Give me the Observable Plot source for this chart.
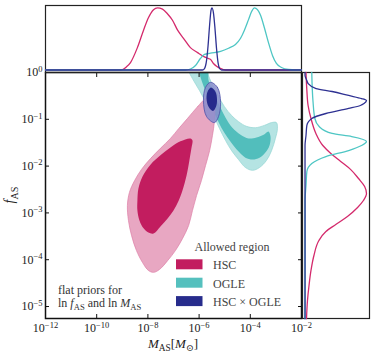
<!DOCTYPE html>
<html><head><meta charset="utf-8">
<script src="https://cdn.jsdelivr.net/npm/d3@7"></script>
<script src="https://cdn.jsdelivr.net/npm/@observablehq/plot@0.6"></script>
<style>
body{margin:0;background:#fff}
#chart{position:relative;width:374px;height:355px}
#chart svg{position:absolute;left:0;top:0}
</style></head><body><div id="chart"></div>
<script>
// ---- tick exponents ----
const xTickExps = [-12, -10, -8, -6, -4, -2];
const yTickExps = [0, -1, -2, -3, -4, -5];

// ---- 2D allowed regions (log10 M_AS, log10 f_AS) ----
const hscOuterLogM = [-5.75,-6.06,-6.45,-6.80,-7.12,-7.51,-7.90,-8.25,-8.52,-8.72,-8.80,-8.76,-8.64,-8.45,-8.21,-7.98,-7.78,-7.55,-7.23,-6.92,-6.65,-6.41,-6.26,-6.10,-5.91,-5.75,-5.59,-5.48,-5.40,-5.40,-5.55];
const hscOuterLogF = [-0.56,-0.73,-0.98,-1.20,-1.41,-1.62,-1.84,-2.07,-2.31,-2.56,-2.84,-3.16,-3.48,-3.80,-4.06,-4.23,-4.27,-4.21,-4.02,-3.80,-3.55,-3.27,-2.95,-2.63,-2.31,-1.99,-1.67,-1.35,-1.03,-0.71,-0.53];
const hscInnerLogM = [-6.34,-6.73,-7.12,-7.51,-7.90,-8.21,-8.37,-8.41,-8.41,-8.33,-8.17,-7.98,-7.78,-7.51,-7.23,-7.00,-6.80,-6.65,-6.49,-6.38,-6.30,-6.26];
const hscInnerLogF = [-1.41,-1.47,-1.60,-1.77,-1.97,-2.22,-2.48,-2.74,-2.95,-3.16,-3.33,-3.42,-3.44,-3.29,-3.12,-2.95,-2.74,-2.52,-2.20,-1.88,-1.62,-1.45];
const ogleOuterLogM = [-6.41,-5.67,-5.67,-5.48,-5.24,-5.01,-4.73,-4.46,-4.15,-3.80,-3.45,-3.17,-2.98,-2.94,-3.02,-3.17,-3.37,-3.64,-3.91,-4.19,-4.46,-4.73,-4.97,-5.20,-5.44,-5.71,-5.98,-6.26,-6.41];
const ogleOuterLogF = [0.13,0.13,0,-0.26,-0.51,-0.73,-0.92,-1.05,-1.15,-1.18,-1.13,-1.07,-1.07,-1.20,-1.41,-1.67,-1.88,-2.03,-2.09,-2.03,-1.86,-1.67,-1.45,-1.20,-0.92,-0.66,-0.39,-0.13,0.04];
const ogleInnerLogM = [-5.98,-5.67,-5.63,-5.44,-5.20,-4.97,-4.70,-4.38,-4.07,-3.76,-3.48,-3.29,-3.21,-3.25,-3.41,-3.64,-3.91,-4.19,-4.42,-4.66,-4.89,-5.13,-5.36,-5.59,-5.79,-5.95,-6.02];
const ogleInnerLogF = [0.13,0.13,-0.17,-0.43,-0.71,-0.96,-1.18,-1.33,-1.41,-1.39,-1.33,-1.26,-1.37,-1.56,-1.71,-1.82,-1.86,-1.82,-1.71,-1.56,-1.39,-1.18,-0.92,-0.64,-0.34,-0.09,0.09];
const jointOuterLogM = [-5.555,-5.28,-5.16,-5.24,-5.40,-5.71,-5.83,-5.75];
const jointOuterLogF = [-0.21,-0.32,-0.64,-0.94,-1.07,-0.94,-0.60,-0.32];
const jointInnerLogM = [-5.535,-5.36,-5.30,-5.34,-5.46,-5.63,-5.71,-5.67];
const jointInnerLogF = [-0.32,-0.41,-0.58,-0.73,-0.82,-0.73,-0.56,-0.41];

// ---- top marginals (log10 M_AS, relative density) ----
const hscTopLogM = [-12,-9.15,-8.99,-8.84,-8.68,-8.41,-8.17,-7.98,-7.78,-7.625,-7.43,-7.23,-7.04,-6.84,-6.61,-6.34,-6.06,-5.83,-5.67,-5.55,-5.43,-5.28,-5.05,-4.89,-2];
const hscTopDens = [0,0,0.008,0.05,0.12,0.36,0.64,0.84,0.97,1.0,0.98,0.90,0.80,0.64,0.51,0.36,0.28,0.22,0.19,0.17,0.10,0.05,0.008,0,0];
const ogleTopLogM = [-12,-6.53,-6.34,-6.14,-5.95,-5.79,-5.555,-5.16,-4.85,-4.58,-4.38,-4.23,-4.07,-3.95,-3.84,-3.72,-3.60,-3.45,-3.29,-3.13,-2.98,-2.78,-2.51,-2.23,-2];
const ogleTopDens = [0,0,0.016,0.072,0.185,0.25,0.27,0.30,0.35,0.41,0.51,0.64,0.81,0.94,1.0,0.97,0.88,0.68,0.44,0.23,0.105,0.04,0.008,0,0];
const jointTopLogM = [-12,-5.87,-5.79,-5.71,-5.65,-5.59,-5.535,-5.50,-5.44,-5.38,-5.32,-5.26,-5.20,-5.125,-2];
const jointTopDens = [0,0,0.024,0.15,0.39,0.72,0.96,1.0,0.92,0.67,0.35,0.12,0.024,0,0];

// ---- right marginals (log10 f_AS, relative density) ----
const hscRightLogF = [0,-0.385,-0.705,-0.983,-1.303,-1.56,-1.73,-1.90,-2.07,-2.265,-2.436,-2.585,-2.735,-2.885,-3.077,-3.248,-3.397,-3.59,-3.91,-4.23,-4.55,-4.87,-5.26];
const hscRightDens = [0.016,0.03,0.05,0.097,0.177,0.29,0.42,0.58,0.74,0.87,0.97,1.0,0.95,0.855,0.69,0.50,0.34,0.226,0.145,0.097,0.065,0.04,0.024];
const ogleRightLogF = [0,-0.62,-0.983,-1.154,-1.303,-1.368,-1.474,-1.56,-1.667,-1.795,-1.944,-2.115,-2.415,-2.735,-5.26];
const ogleRightDens = [0.11,0.13,0.16,0.23,0.44,0.76,1.0,0.92,0.71,0.34,0.11,0.03,0.016,0,0];
const jointRightLogF = [0,-0.064,-0.171,-0.235,-0.342,-0.406,-0.491,-0.556,-0.598,-0.662,-0.705,-0.769,-0.876,-0.983,-1.132,-1.346,-1.56,-5.26];
const jointRightDens = [0,0,0.03,0.05,0.18,0.44,0.71,0.92,1.0,0.96,0.90,0.71,0.34,0.11,0.03,0.016,0,0];

// ---- legend ----
const legendTitle = "Allowed region";
const legendLabels = ["HSC", "OGLE", "HSC × OGLE"];
const legendColors = ["#c21d5f", "#55c0be", "#272c8c"];

// ---- colours ----
const C = {
  hscLight:"#e8a7c2", hscDark:"#c21d5f", hscLine:"#d42a6c",
  ogleLight:"#b5e4e3", ogleDark:"#52bebc", ogleLine:"#4ec6c4",
  jointLight:"#8a8dcc", jointDark:"#262a8c", jointLine:"#2e3192"
};

const FONT = "'Liberation Serif','DejaVu Serif',serif";
const NS = "http://www.w3.org/2000/svg";
const W = 374, H = 355;
const L = 45, R = 301, T = 72, B = 318;
const xDom = [1e-12, 1e-2];
const yDom = [Math.pow(10, -5.256), 1];

const poly = (ms, fs) => ms.map((m, i) => ({m: Math.pow(10, m), f: Math.pow(10, fs[i])}));
const topSeries = (ms, ds) => ms.map((m, i) => ({m: Math.pow(10, m), d: ds[i]}));
const rightSeries = (fs, ds) => fs.map((f, i) => ({f: Math.pow(10, f), d: ds[i]}));
const fmt = d => "10^" + String(Math.round(Math.log10(d))).replace("-", "\u2212");
const xTicks = xTickExps.map(e => Math.pow(10, e));
const yTicks = yTickExps.map(e => Math.pow(10, e));

const region = (data, fill, stroke, sw, extra = {}) =>
  Plot.line(data, {x: "m", y: "f", curve: "catmull-rom-closed", fill, stroke, strokeWidth: sw, clip: true, ...extra});

const main = Plot.plot({
  width: W, height: H,
  marginLeft: L, marginRight: W - R, marginTop: T, marginBottom: H - B,
  style: {background: "transparent", fontFamily: FONT, fontSize: "12px", color: "#222"},
  x: {type: "log", domain: xDom, label: null},
  y: {type: "log", domain: yDom, label: null},
  marks: [
    region(poly(ogleOuterLogM, ogleOuterLogF), C.ogleLight, "#93d5d3", 0.7),
    region(poly(ogleInnerLogM, ogleInnerLogF), C.ogleDark, "none", 0),
    region(poly(hscOuterLogM, hscOuterLogF), C.hscLight, "#dc7ea6", 0.7),
    region(poly(hscInnerLogM, hscInnerLogF), C.hscDark, "none", 0),
    region(poly(jointOuterLogM, jointOuterLogF), C.jointLight, "#4d51a8", 0.8, {fillOpacity: 0.85}),
    region(poly(jointInnerLogM, jointInnerLogF), C.jointDark, "none", 0),
    Plot.frame({stroke: "#111", strokeWidth: 1.5}),
    Plot.axisX(xTicks, {anchor: "bottom", tickSize: 0, tickPadding: 5, tickFormat: fmt, label: null}),
    Plot.axisX(xTicks, {anchor: "bottom", tickSize: 4, dy: -4, fill: "none", label: null, stroke: "#111"}),
    Plot.axisX(xTicks, {anchor: "top", tickSize: 4, dy: 4, fill: "none", label: null, stroke: "#111"}),
    Plot.axisY(yTicks, {anchor: "left", tickSize: 0, tickPadding: 3, tickFormat: fmt, label: null}),
    Plot.axisY(yTicks, {anchor: "left", tickSize: 4, dx: 4, fill: "none", label: null, stroke: "#111"}),
    Plot.axisY(yTicks, {anchor: "right", tickSize: 4, dx: -4, fill: "none", label: null, stroke: "#111"})
  ]
});

const topPanel = Plot.plot({
  width: W, height: H,
  marginLeft: L, marginRight: W - R, marginTop: 5, marginBottom: H - T,
  style: {background: "transparent"},
  x: {type: "log", domain: xDom, axis: null},
  y: {domain: [-0.04, 1.037], axis: null},
  marks: [
    Plot.frame({stroke: "#222", strokeWidth: 1.2}),
    Plot.line(topSeries(hscTopLogM, hscTopDens), {x: "m", y: "d", stroke: C.hscLine, strokeWidth: 1.3, curve: "monotone-x"}),
    Plot.line(topSeries(ogleTopLogM, ogleTopDens), {x: "m", y: "d", stroke: C.ogleLine, strokeWidth: 1.3, curve: "monotone-x"}),
    Plot.line(topSeries(jointTopLogM, jointTopDens), {x: "m", y: "d", stroke: C.jointLine, strokeWidth: 1.3, curve: "monotone-x"})
  ]
});

const rightPanel = Plot.plot({
  width: W, height: H,
  marginLeft: 302, marginRight: 5, marginTop: T, marginBottom: H - B,
  style: {background: "transparent"},
  x: {domain: [-0.041, 1.049], axis: null},
  y: {type: "log", domain: yDom, axis: null},
  marks: [
    Plot.frame({stroke: "#222", strokeWidth: 1.2}),
    Plot.line(rightSeries(hscRightLogF, hscRightDens), {x: "d", y: "f", stroke: C.hscLine, strokeWidth: 1.3, curve: "monotone-y"}),
    Plot.line(rightSeries(ogleRightLogF, ogleRightDens), {x: "d", y: "f", stroke: C.ogleLine, strokeWidth: 1.3, curve: "monotone-y"}),
    Plot.line(rightSeries(jointRightLogF, jointRightDens), {x: "d", y: "f", stroke: C.jointLine, strokeWidth: 1.3, curve: "monotone-y"})
  ]
});

// superscript tick labels
main.querySelectorAll("text").forEach(t => {
  const m = t.textContent.match(/^10\^(.+)$/);
  if (!m) return;
  t.textContent = "10";
  const ts = document.createElementNS(NS, "tspan");
  ts.setAttribute("dy", "-4.5");
  ts.setAttribute("font-size", "8.5");
  ts.textContent = m[1];
  t.appendChild(ts);
});

function rich(svg, x, y, parts, {size = 12, anchor = "start", rotate = 0, fill = "#222"} = {}) {
  const t = document.createElementNS(NS, "text");
  t.setAttribute("x", x); t.setAttribute("y", y);
  t.setAttribute("font-family", FONT); t.setAttribute("font-size", size);
  t.setAttribute("fill", fill); t.setAttribute("text-anchor", anchor);
  t.setAttribute("style", "white-space:pre");
  if (rotate) t.setAttribute("transform", `rotate(${rotate},${x},${y})`);
  let cur = 0;
  for (const [s, k] of parts) {
    const ts = document.createElementNS(NS, "tspan");
    let shift = 0;
    if (k === "i") ts.setAttribute("font-style", "italic");
    if (k === "sub") { shift = size * 0.3; ts.setAttribute("font-size", (size * 0.72).toFixed(1)); }
    if (shift !== cur) ts.setAttribute("dy", (shift - cur).toFixed(2));
    cur = shift;
    ts.textContent = s;
    t.appendChild(ts);
  }
  svg.appendChild(t);
  return t;
}

// axis labels
rich(main, 14, 195, [["f", "i"], ["AS", "sub"]], {size: 14, anchor: "middle", rotate: -90});
rich(main, 173, 347.5, [["M", "i"], ["AS", "sub"], ["[", ""], ["M", "i"], ["\u2299", "sub"], ["]", ""]], {size: 13, anchor: "middle"});

// annotation
rich(main, 58, 294, [["flat priors for", ""]], {size: 12, fill: "#333"});
rich(main, 58, 306.5, [["ln ", ""], ["f", "i"], ["AS", "sub"], [" and ln ", ""], ["M", "i"], ["AS", "sub"]], {size: 12, fill: "#333"});

// legend
rich(main, 232, 251, [[legendTitle, ""]], {size: 12, anchor: "middle", fill: "#444"});
legendLabels.forEach((lab, i) => {
  const y0 = 259.3 + i * 18.4;
  const r = document.createElementNS(NS, "rect");
  r.setAttribute("x", 176); r.setAttribute("y", y0);
  r.setAttribute("width", 26.5); r.setAttribute("height", 10);
  r.setAttribute("fill", legendColors[i]);
  main.appendChild(r);
  rich(main, 213, y0 + 10, [[lab, ""]], {size: 12, fill: "#444"});
});

const chart = document.getElementById("chart");
chart.appendChild(main);
chart.appendChild(topPanel);
chart.appendChild(rightPanel);
</script>
</body></html>
